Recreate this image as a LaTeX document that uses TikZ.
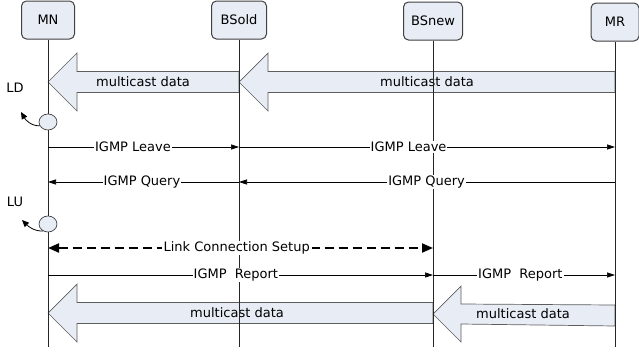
\documentclass[tikz,border=0pt]{standalone}
\usepackage{fontspec}
\setmainfont{DejaVu Sans}
\usetikzlibrary{calc,arrows.meta,shapes.geometric}
\definecolor{boxfill}{HTML}{E7ECF5}
\definecolor{boxline}{HTML}{404040}
\tikzset{
  actor/.style={draw=boxline, fill=boxfill, rounded corners=5pt, line width=1pt, inner sep=0pt, minimum height=38pt, font=\fontsize{13}{15}\selectfont},
  life/.style={line width=0.8pt, draw=black!85},
  fat/.style={draw=boxline!85, fill=boxfill, line width=0.7pt, line join=miter},
  fatlbl/.style={font=\fontsize{13}{15}\selectfont, inner sep=0pt},
  msg/.style={line width=0.7pt, -{Triangle[length=8pt,width=5pt]}},
  lbl/.style={fill=white, inner sep=1pt, font=\fontsize{13}{15}\selectfont},
  dsh/.style={line width=2pt, dash pattern=on 9pt off 5pt, {Triangle[length=11pt,width=9pt]}-{Triangle[length=11pt,width=9pt]}},
  event/.style={ellipse, draw=boxline, fill=boxfill, line width=0.7pt, minimum width=18pt, minimum height=16pt, inner sep=0pt},
  hook/.style={line width=0.8pt, -{Triangle[length=7pt,width=6pt]}},
  side/.style={font=\fontsize{13}{15}\selectfont, inner sep=0pt}
}
\begin{document}
\begin{tikzpicture}[x=1pt,y=-1pt]
\useasboundingbox (0,0) rectangle (639,356);
% actors
\node[actor, minimum width=53pt] (MN) at (48,20) {MN};
\node[actor, minimum width=55pt] (BSold) at (239,20) {BSold};
\node[actor, minimum width=59pt] (BSnew) at (433,21) {BSnew};
\node[actor, minimum width=48pt] (MR) at (615,22) {MR};
% fat arrows
\draw[fat] (MN.south |- 0,82) -- ++(29,-29) -- ++(0,18.5) -- (BSold.south |- 0,71.5) -- (BSold.south |- 0,92.5) -- ($(MN.south |- 0,92.5)+(29,0)$) -- ++(0,18.5) -- cycle;
\node[fatlbl] (fd1) at (143,82) {multicast data};
\draw[fat] (BSold.south |- 0,82) -- ++(29,-29) -- ++(0,18.5) -- (MR.south |- 0,71.5) -- (MR.south |- 0,92.5) -- ($(BSold.south |- 0,92.5)+(29,0)$) -- ++(0,18.5) -- cycle;
\node[fatlbl] (fd2) at (427,82) {multicast data};
\draw[fat] (MN.south |- 0,313) -- ++(29,-29) -- ++(0,18.5) -- (BSnew.south |- 0,302.5) -- (BSnew.south |- 0,323.5) -- ($(MN.south |- 0,323.5)+(29,0)$) -- ++(0,18.5) -- cycle;
\node[fatlbl] (fd3) at (237,313) {multicast data};
\draw[fat] (BSnew.south |- 0,314) -- ++(28,-28) -- ++(0,18) -- (MR.south |- 0,305) -- (MR.south |- 0,326) -- ($(BSnew.south |- 0,324)+(28,0)$) -- ++(0,18) -- cycle;
\node[fatlbl] (fd4) at (523,314) {multicast data};
% lifelines
\coordinate (MNend) at (MN.south |- 0,347);
\coordinate (BSoldend) at (BSold.south |- 0,347);
\coordinate (BSnewend) at (BSnew.south |- 0,347);
\coordinate (MRend) at (MR.south |- 0,347);
\draw[life] (MN.south) -- (MNend);
\draw[life] (BSold.south) -- (BSoldend);
\draw[life] (BSnew.south) -- (BSnewend);
\draw[life] (MR.south) -- (MRend);
% events
\node[event] (ev1) at (MN.south |- 0,122) {};
\node[event] (ev2) at (MN.south |- 0,224) {};
\coordinate (ev1tip) at (21,112);
\coordinate (ev2tip) at (22,220);
\draw[hook] (ev1.205) to[out=180,in=-60] (ev1tip);
\draw[hook] (ev2.235) to[out=180,in=-45] (ev2tip);
\node[side] (LD) at (15,88) {LD};
\node[side] (LU) at (15,202) {LU};
% messages
\draw[msg] (MN.south |- 0,147) -- node[lbl,pos=0.445] {IGMP Leave} (BSold.south |- 0,147);
\draw[msg] (BSold.south |- 0,147) -- node[lbl,pos=0.451] {IGMP Leave} (MR.south |- 0,147);
\draw[msg] (BSold.south |- 0,182) -- node[lbl,pos=0.508] {IGMP Query} (MN.south |- 0,182);
\draw[msg] (MR.south |- 0,182) -- node[lbl,pos=0.501] {IGMP Query} (BSold.south |- 0,182);
\draw[dsh] (MN.south |- 0,248) -- node[lbl,pos=0.49,inner xsep=2pt] {Link Connection Setup} (BSnew.south |- 0,248);
\draw[msg] (MN.south |- 0,275) -- node[lbl,pos=0.488] {IGMP\ \ Report} (BSnew.south |- 0,275);
\draw[msg] (BSnew.south |- 0,275) -- node[lbl,pos=0.48] {IGMP\ \ Report} (MR.south |- 0,275);
\end{tikzpicture}
\end{document}
